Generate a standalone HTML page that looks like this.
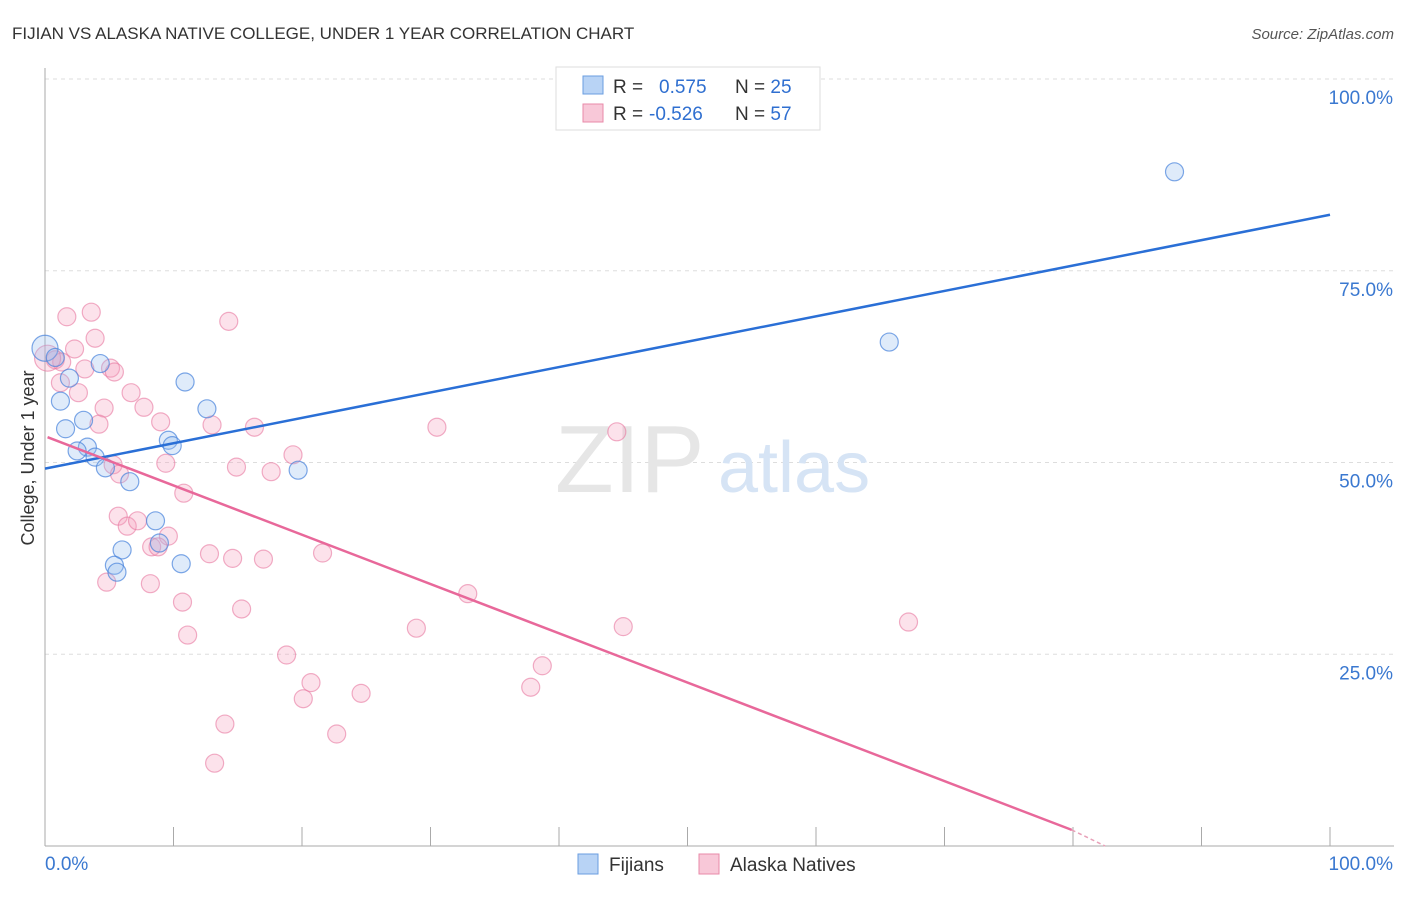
<!DOCTYPE html>
<html><head><meta charset="utf-8"><style>
body{margin:0;background:#fff;font-family:"Liberation Sans",sans-serif;}
svg text{font-family:"Liberation Sans",sans-serif;}
</style></head><body>
<svg id="c" width="1406" height="892">
<text x="12" y="39" font-size="17" fill="#333">FIJIAN VS ALASKA NATIVE COLLEGE, UNDER 1 YEAR CORRELATION CHART</text>
<text x="1394" y="39" font-size="15" fill="#555" text-anchor="end" font-style="italic">Source: ZipAtlas.com</text>
<g id="grid"></g>
<text x="555" y="492" font-size="96" fill="#e6e6e6" font-family="Liberation Serif">ZIP</text>
<text x="718" y="492" font-size="72" fill="#d6e4f5">atlas</text>
<g id="pts"></g>
<g id="lines"></g>
<text transform="translate(34,458) rotate(-90)" font-size="18" fill="#333" text-anchor="middle">College, Under 1 year</text>
<g>
<rect x="556" y="67" width="264" height="63" fill="#fff" stroke="#ddd"/>
<rect x="583" y="76" width="20" height="18" fill="#b8d3f5" stroke="#6a9ee0"/>
<rect x="583" y="104" width="20" height="18" fill="#f8c8d8" stroke="#e88aa8"/>
<text x="613" y="93" font-size="19" fill="#333">R =</text>
<text x="659" y="93" font-size="19" fill="#2f6fd0">0.575</text>
<text x="735" y="93" font-size="19" fill="#333">N = <tspan fill="#2f6fd0">25</tspan></text>
<text x="613" y="120" font-size="19" fill="#333">R =</text>
<text x="649" y="120" font-size="19" fill="#2f6fd0">-0.526</text>
<text x="735" y="120" font-size="19" fill="#333">N = <tspan fill="#2f6fd0">57</tspan></text>
</g>
<g>
<rect x="578" y="854" width="20" height="20" fill="#b8d3f5" stroke="#6a9ee0"/>
<text x="609" y="871" font-size="19" fill="#333">Fijians</text>
<rect x="699" y="854" width="20" height="20" fill="#f8c8d8" stroke="#e88aa8"/>
<text x="730" y="871" font-size="19" fill="#333">Alaska Natives</text>
</g>
</svg>
<script>
const yTicks=[25,50,75,100];
const yTickLabels=["25.0%","50.0%","75.0%","100.0%"];
const blueX=[0,0.8,4.3,1.9,1.2,10.9,3.0,1.6,12.6,3.3,2.5,9.6,9.9,3.9,4.7,19.7,6.6,8.6,8.9,6.0,5.4,5.6,10.6,65.7,87.9];
const blueY=[64.9,63.7,62.9,61.0,58.0,60.5,55.5,54.4,57.0,52.0,51.5,52.9,52.2,50.7,49.3,49.0,47.5,42.4,39.5,38.6,36.6,35.7,36.8,65.7,87.9];
const blueR=[13,0,0,0,0,0,0,0,0,0,0,0,0,0,0,0,0,0,0,0,0,0,0,0,0];
const pinkX=[1.7,3.6,14.3,3.9,2.3,0.8,1.3,3.1,5.1,5.4,1.2,2.6,6.7,4.6,7.7,4.2,13.0,9.0,16.3,30.5,44.5,19.3,9.4,5.3,14.9,17.6,5.8,10.8,5.7,6.4,7.2,9.6,8.3,8.8,12.8,14.6,17.0,21.6,4.8,8.2,32.9,10.7,15.3,28.9,45.0,67.2,11.1,18.8,20.7,20.1,38.7,37.8,24.6,14.0,22.7,13.2,0.2];
const pinkY=[69.0,69.6,68.4,66.2,64.8,63.4,63.1,62.2,62.3,61.8,60.4,59.1,59.1,57.1,57.2,55.0,54.9,55.3,54.6,54.6,54.0,51.0,49.9,49.7,49.4,48.8,48.5,46.0,43.0,41.7,42.4,40.4,39.0,39.0,38.1,37.5,37.4,38.2,34.4,34.2,32.9,31.8,30.9,28.4,28.6,29.2,27.5,24.9,21.3,19.2,23.5,20.7,19.9,15.9,14.6,10.8,63.6];
const blueTrend=[[0,49.2],[100,82.3]];
const pinkTrend=[[0.2,53.3],[79.9,2.1],[82.5,0]];
const X=v=>45+v*12.85, Y=v=>846-v*7.67;
const NS="http://www.w3.org/2000/svg";
function mk(t,a,p){const e=document.createElementNS(NS,t);for(const k in a)e.setAttribute(k,a[k]);p.appendChild(e);return e;}
const g=document.getElementById('grid');
yTicks.forEach((t,i)=>{
 const l=mk('line',{x1:45,x2:1394,y1:Y(t),y2:Y(t),stroke:'#ddd','stroke-dasharray':'4,4'},g);
 
 
 const tx=mk('text',{x:1393,y:Y(t)+25,'font-size':19,fill:'#3a78d0','text-anchor':'end'},g);
 tx.textContent=yTickLabels[i];
 
 
});
const ax=mk('line',{x1:45,x2:45,y1:68,y2:846,stroke:'#aaa'},g);


const bx=mk('line',{x1:45,x2:1394,y1:846,y2:846,stroke:'#aaa'},g);


for(let i=0;i<=10;i++){const t=mk('line',{x1:X(i*10),x2:X(i*10),y1:827,y2:846,stroke:'#aaa'},g);
 
 }
[[45,'start','0.0%'],[1393,'end','100.0%']].forEach(a=>{const t=mk('text',{x:a[0],y:870,'font-size':19,fill:'#3a78d0','text-anchor':a[1]},g);t.textContent=a[2];
 
 });
const p=document.getElementById('pts');
pinkX.forEach((x,i)=>{const c=mk('circle',{cx:X(x),cy:Y(pinkY[i]),r:i==56?13:9,fill:'rgba(244,160,190,0.3)',stroke:'rgba(232,120,160,0.6)','stroke-width':1.2},p);
 
 });
blueX.forEach((x,i)=>{const c=mk('circle',{cx:X(x),cy:Y(blueY[i]),r:blueR[i]||9,fill:'rgba(150,190,240,0.3)',stroke:'rgba(70,130,220,0.7)','stroke-width':1.2},p);
 
 });
const L=document.getElementById('lines');
const b=mk('line',{x1:X(blueTrend[0][0]),y1:Y(blueTrend[0][1]),x2:X(blueTrend[1][0]),y2:Y(blueTrend[1][1]),stroke:'#2a6fd6','stroke-width':2.5},L);


const pk=mk('line',{x1:X(pinkTrend[0][0]),y1:Y(pinkTrend[0][1]),x2:X(pinkTrend[1][0]),y2:Y(pinkTrend[1][1]),stroke:'#e8689a','stroke-width':2.5},L);


const pd=mk('line',{x1:X(pinkTrend[1][0]),y1:Y(pinkTrend[1][1]),x2:X(pinkTrend[2][0]),y2:Y(pinkTrend[2][1]),stroke:'#e8a0b8','stroke-width':1.5,'stroke-dasharray':'4,3'},L);


</script>
</body></html>
